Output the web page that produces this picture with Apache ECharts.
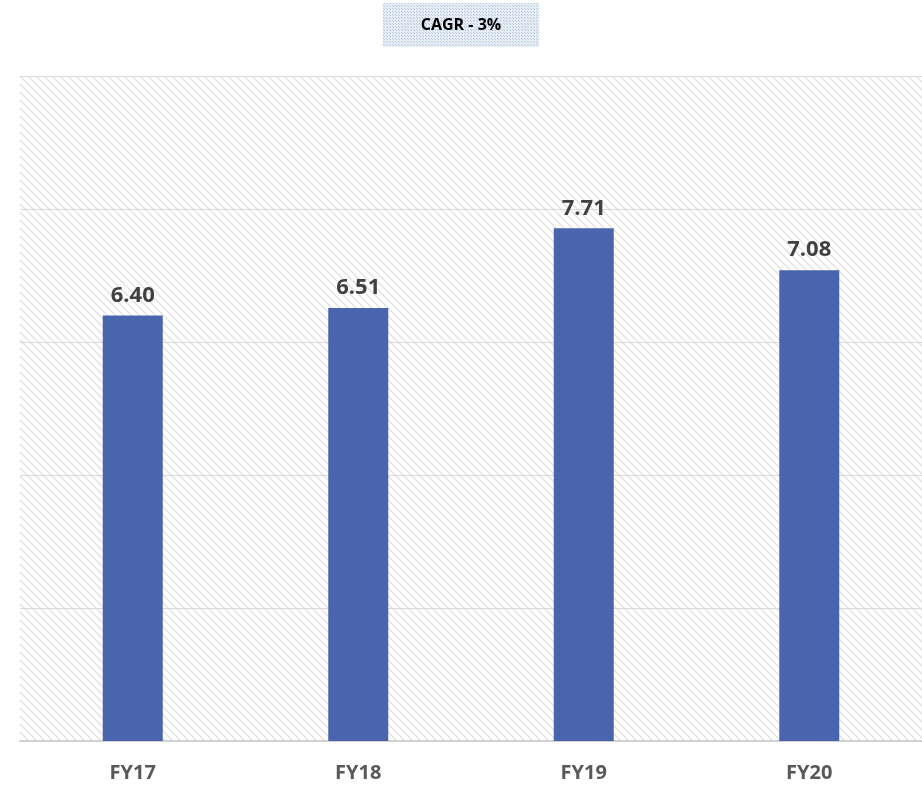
<!DOCTYPE html>
<html>
<head>
<meta charset="utf-8">
<script src="https://cdn.jsdelivr.net/npm/echarts@6/dist/echarts.min.js"></script>
<style>
  html, body { margin: 0; padding: 0; background: #fff; }
  #chart { width: 922px; height: 790px; }
</style>
</head>
<body>
<div id="chart"></div>
<script>
var categories = ["FY17", "FY18", "FY19", "FY20"];
var values = [6.40, 6.51, 7.71, 7.08];
var titleText = "CAGR - 3%";

// diagonal hatch for plot area
function hatchPattern() {
  var c = document.createElement("canvas");
  c.width = 8;
  c.height = 8;
  var ctx = c.getContext("2d");
  ctx.fillStyle = "#ffffff";
  ctx.fillRect(0, 0, 8, 8);
  ctx.strokeStyle = "#e2e2e2";
  ctx.lineWidth = 1.5;
  ctx.beginPath();
  ctx.moveTo(-2, -2);
  ctx.lineTo(10, 10);
  ctx.moveTo(-2, 6);
  ctx.lineTo(2, 10);
  ctx.moveTo(6, -2);
  ctx.lineTo(10, 2);
  ctx.stroke();
  return c;
}

// dotted fill for the title box
function dotPattern() {
  var c = document.createElement("canvas");
  c.width = 3;
  c.height = 3;
  var ctx = c.getContext("2d");
  ctx.fillStyle = "#e6edf5";
  ctx.fillRect(0, 0, 3, 3);
  ctx.fillStyle = "#b9c9dc";
  ctx.fillRect(0, 0, 1, 1);
  ctx.fillRect(1, 1, 1, 1);
  return c;
}

var chart = echarts.init(document.getElementById("chart"));
chart.setOption({
  backgroundColor: "#ffffff",
  animation: false,
  title: {
    text: titleText,
    left: "center",
    top: 3,
    padding: [14, 38, 14, 38],
    backgroundColor: { image: dotPattern(), repeat: "repeat" },
    textStyle: {
      fontFamily: "Open Sans",
      fontWeight: "bold",
      fontSize: 16,
      color: "#000"
    }
  },
  grid: {
    left: 20,
    right: 0,
    top: 76,
    bottom: 49,
    show: true,
    borderWidth: 0,
    backgroundColor: { image: hatchPattern(), repeat: "repeat" }
  },
  xAxis: {
    type: "category",
    data: categories,
    axisLine: { lineStyle: { color: "#d0d0d0", width: 2 } },
    axisTick: { show: false },
    axisLabel: {
      margin: 22,
      fontFamily: "Open Sans",
      fontWeight: "bold",
      fontSize: 20,
      color: "#595959"
    }
  },
  yAxis: {
    type: "value",
    min: 0,
    max: 10,
    interval: 2,
    axisLabel: { show: false },
    axisLine: { show: false },
    axisTick: { show: false },
    splitLine: { lineStyle: { color: "#d9d9d9", width: 1 } }
  },
  series: [
    {
      type: "bar",
      data: values,
      barWidth: 60,
      itemStyle: { color: "#4a65ad" },
      label: {
        show: true,
        position: "top",
        distance: 9,
        formatter: function (p) { return p.value.toFixed(2); },
        fontFamily: "Open Sans",
        fontWeight: "bold",
        fontSize: 22,
        color: "#404040"
      }
    }
  ]
});
</script>
</body>
</html>
